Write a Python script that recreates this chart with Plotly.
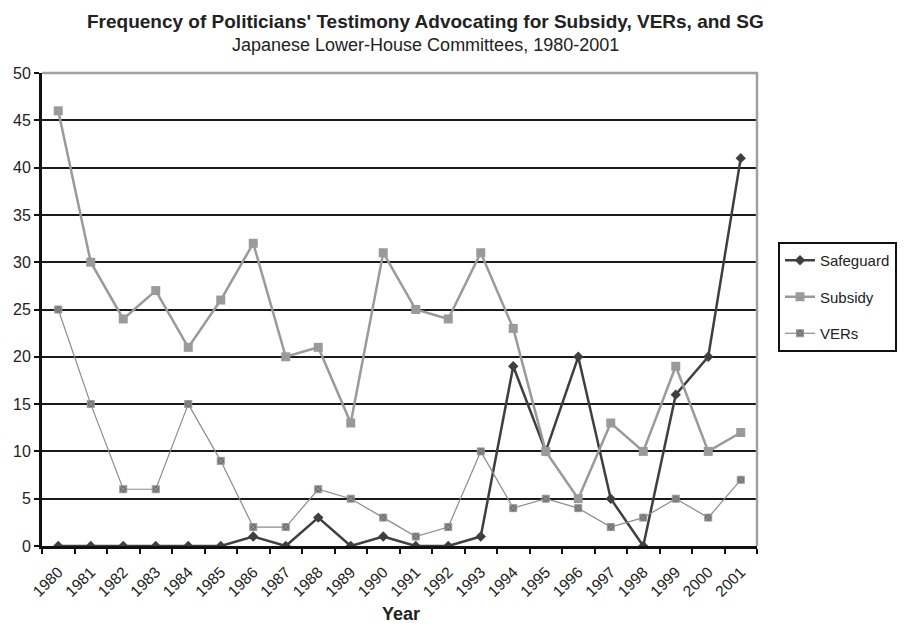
import plotly.graph_objects as go

years = [str(y) for y in range(1980, 2002)]
safeguard = [0, 0, 0, 0, 0, 0, 1, 0, 3, 0, 1, 0, 0, 1, 19, 10, 20, 5, 0, 16, 20, 41]
subsidy = [46, 30, 24, 27, 21, 26, 32, 20, 21, 13, 31, 25, 24, 31, 23, 10, 5, 13, 10, 19, 10, 12]
vers = [25, 15, 6, 6, 15, 9, 2, 2, 6, 5, 3, 1, 2, 10, 4, 5, 4, 2, 3, 5, 3, 7]
y_ticks = list(range(0, 51, 5))

fig = go.Figure()
fig.add_trace(go.Scatter(x=years, y=safeguard, name="Safeguard", mode="lines+markers",
                         line=dict(color="#3f3f3f", width=2.5),
                         marker=dict(symbol="diamond", size=8, color="#3f3f3f"),
                         legendgroup="a"))
fig.add_trace(go.Scatter(x=years, y=subsidy, name="Subsidy", mode="lines+markers",
                         line=dict(color="#9a9a9a", width=2.5),
                         marker=dict(symbol="square", size=9, color="#9a9a9a"),
                         legendgroup="b"))
fig.add_trace(go.Scatter(x=years, y=vers, name="VERs", mode="lines+markers",
                         line=dict(color="#8c8c8c", width=1.2),
                         marker=dict(symbol="square-x", size=7, color="#6e6e6e",
                                     line=dict(color="#9a9a9a", width=1)),
                         legendgroup="c"))

fig.update_layout(
    width=906, height=626,
    margin=dict(l=34, r=157, t=65, b=88, autoexpand=False),
    paper_bgcolor="white", plot_bgcolor="white",
    font=dict(family="Liberation Sans, Arial, sans-serif", color="#222", size=15),
    showlegend=True,
    legend=dict(x=(778 - 42) / 715, xanchor="left", y=(546 - 242) / 473, yanchor="top",
                bordercolor="#111", borderwidth=2, bgcolor="white",
                font=dict(size=15, color="#222"),
                traceorder="grouped", tracegroupgap=14,
                itemwidth=30),
    xaxis=dict(type="category", range=[-0.5, 21.5], automargin=False,
               showgrid=False, showline=True, linecolor="#111", linewidth=3,
               ticks="outside", ticklen=5, tickwidth=2, tickcolor="#111",
               tickson="boundaries", tickangle=-45, ticklabelstandoff=8,
               tickfont=dict(size=15.5, color="#222"),
               zeroline=False),
    yaxis=dict(range=[0, 50], tickvals=y_ticks, automargin=False,
               showgrid=True, gridcolor="#1a1a1a", gridwidth=2.2,
               showline=True, linecolor="#111", linewidth=3,
               ticks="outside", ticklen=5, tickwidth=2, tickcolor="#111",
               tickfont=dict(size=16, color="#222"),
               zeroline=False),
    annotations=[
        dict(text="<b>Frequency of Politicians' Testimony Advocating for Subsidy, VERs, and SG</b>",
             xref="paper", yref="paper", x=(425 - 42) / 715, y=1 + (73 - 22) / 473,
             xanchor="center", yanchor="middle", showarrow=False,
             font=dict(size=19, color="#222")),
        dict(text="Japanese Lower-House Committees, 1980-2001",
             xref="paper", yref="paper", x=(425 - 42) / 715, y=1 + (73 - 45) / 473,
             xanchor="center", yanchor="middle", showarrow=False,
             font=dict(size=18, color="#222")),
        dict(text="<b>Year</b>",
             xref="paper", yref="paper", x=(401 - 42) / 715, y=-(614 - 546) / 473,
             xanchor="center", yanchor="middle", showarrow=False,
             font=dict(size=18, color="#222")),
    ],
)

fig.add_shape(type="path", xref="paper", yref="paper",
              path="M 0 1 L 1 1 L 1 0", line=dict(color="#a0a0a0", width=2.5))

fig.write_html("out.html")
